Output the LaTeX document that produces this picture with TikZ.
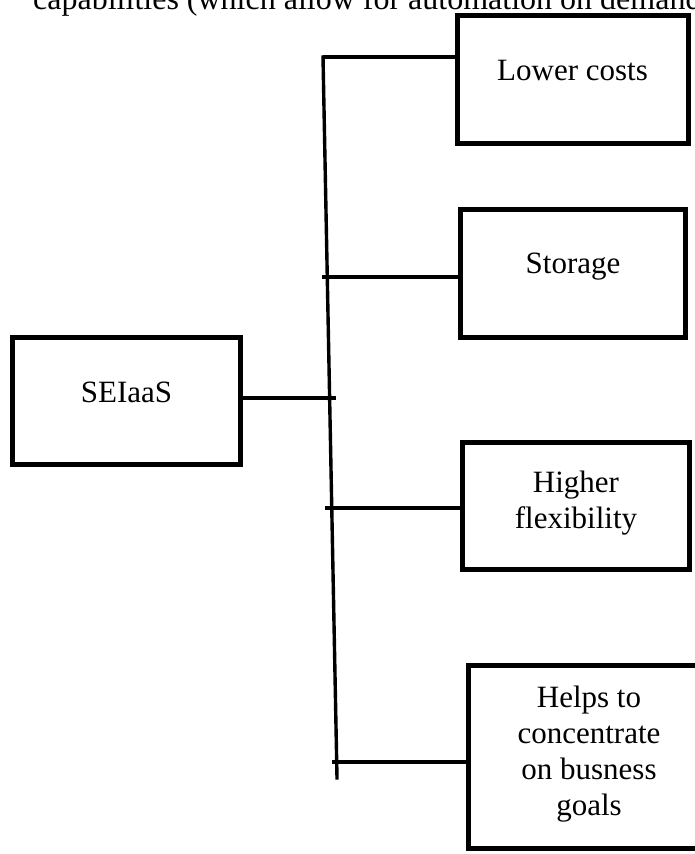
\documentclass[tikz,border=0pt]{standalone}
\usepackage{fontspec}
\setmainfont{Liberation Serif}
\begin{document}
\begin{tikzpicture}[x=1pt,y=-1pt,
  txt/.style={font=\fontsize{31}{36}\selectfont, align=center, inner sep=0pt},
  box/.style={draw, line width=5pt, inner sep=0pt, fill=none},
  conn/.style={line width=3.4pt}]
\useasboundingbox (0,0) rectangle (695,854);
\clip (0,0) rectangle (695,854);
% clipped caption line at top
\node[font=\fontsize{32}{36}\selectfont, inner sep=0pt, anchor=base west] (cap) at (33,9) {capabilities (which allow for automation on demand};
% boxes
\node[box, minimum width=231pt, minimum height=128pt,
  label={[txt, yshift=8pt]center:Lower costs}] (b1) at (572.5,79) {};
\node[box, minimum width=225pt, minimum height=128pt,
  label={[txt, yshift=7pt]center:Storage}] (b2) at (573,273.5) {};
\node[box, minimum width=228pt, minimum height=127pt,
  label={[txt, yshift=9pt]center:SEIaaS}] (s) at (126.5,401) {};
\node[box, minimum width=227pt, minimum height=127pt,
  label={[txt, yshift=3pt]center:Higher\\flexibility}] (b3) at (576,506) {};
\node[box, minimum width=234pt, minimum height=183pt,
  label={[txt, yshift=2pt, xshift=4pt]center:Helps to\\concentrate\\on busness\\goals}] (b4) at (585,756.5) {};
% connector coordinates
\coordinate (vtop) at (323,57);
\coordinate (vbot) at (337,778);
\coordinate (h2) at (322,277);
\coordinate (j) at (336,398);
\coordinate (h3) at (325,508);
\coordinate (h4) at (332,762);
% connectors
\draw[conn, line cap=rect] (vtop) -- (vbot);
\draw[conn] (vtop) -- (vtop -| b1.west);
\draw[conn] (h2) -- (h2 -| b2.west);
\draw[conn] (s.east |- j) -- (j);
\draw[conn] (h3) -- (h3 -| b3.west);
\draw[conn] (h4) -- (h4 -| b4.west);
\end{tikzpicture}
\end{document}
